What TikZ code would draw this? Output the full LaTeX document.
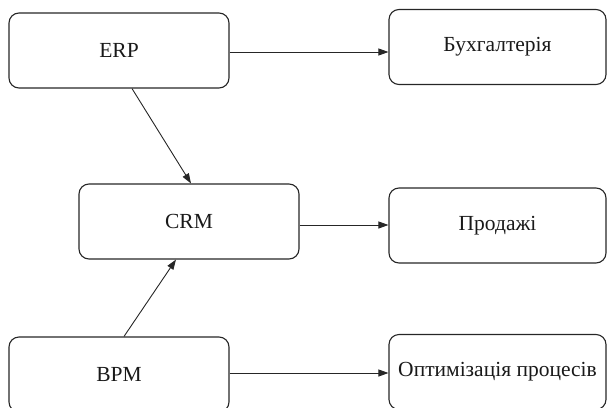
\documentclass[tikz,border=0pt]{standalone}
\usepackage{fontspec}
\setmainfont{Liberation Serif}
\usetikzlibrary{arrows.meta}
\begin{document}
\begin{tikzpicture}[x=1pt,y=-1pt,
  box/.style={draw=black!85, line width=1.1pt, rounded corners=10pt, minimum width=#1, minimum height=75pt, inner sep=0pt, font=\fontsize{21.5}{25}\selectfont, text=black!90},
  box/.default=220pt,
  conn/.style={draw=black!85, line width=0.9pt, -{Triangle[length=10pt,width=7pt]}}]
\useasboundingbox (0,0) rectangle (607,407);
\clip (0,0) rectangle (607,407);
\node[box] (ERP) at (119,50.5) {ERP};
\node[box=217pt] (BUH) at (497.5,47) {Бухгалтерія};
\node[box] (CRM) at (189,221.5) {CRM};
\node[box=217pt] (PRO) at (497.5,225.5) {Продажі};
\node[box] (BPM) at (119,374.5) {BPM};
\node[box=217pt] (OPT) at (497.5,372) {Оптимізація процесів};
\draw[conn] ([yshift=-1.5pt]ERP.east) -- ([yshift=-1.5pt]ERP.east -| BUH.west);
\draw[conn] ([yshift=-3.5pt]CRM.east) -- ([yshift=-3.5pt]CRM.east -| PRO.west);
\draw[conn] ([yshift=1.5pt]BPM.east) -- ([yshift=1.5pt]BPM.east -| OPT.west);
\draw[conn] ([xshift=13pt]ERP.south) -- ([xshift=2pt]CRM.north);
\draw[conn] ([xshift=5pt]BPM.north) -- ([xshift=-13pt]CRM.south);
\end{tikzpicture}
\end{document}
